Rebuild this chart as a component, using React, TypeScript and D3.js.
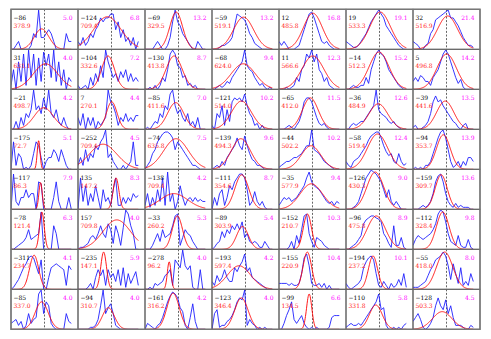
import React from 'react'
import * as d3 from 'd3'

const COLS = 7
const ROWS = 8

// bin centres of every profile (same for all panels)
const binCenters = d3.range(25).map(i => -1000 + i * 75)

// black label: fitted centre
const muLabels = [
  -86, -124, -69, -59, 12, 19, 32,
  31, -104, -130, -68, 11, -14, 5,
  -21, 7, -85, -121, -65, -36, -39,
  -175, -252, -74, -139, -44, -58, -94,
  -117, 135, -138, -111, -35, -126, -159,
  -78, 157, -33, -89, -152, -96, -112,
  -311, -235, -278, -193, -155, -194, -55,
  -85, -94, -161, -123, -99, -110, -128,
]

// red label: fitted width
const widthLabels = [
  378.9, 709.4, 329.5, 519.1, 485.8, 533.3, 516.9,
  631.1, 332.6, 413.8, 624.0, 566.6, 512.3, 496.8,
  498.7, 270.1, 411.6, 514.0, 412.0, 484.9, 441.6,
  72.7, 709.4, 635.8, 494.3, 502.2, 519.4, 353.7,
  86.3, 147.2, 709.4, 354.6, 577.9, 430.3, 309.7,
  121.4, 709.8, 260.2, 303.9, 210.7, 475.8, 328.4,
  234.7, 147.1, 96.2, 597.4, 220.9, 237.2, 418.0,
  337.0, 310.7, 316.2, 346.4, 134.5, 331.8, 503.3,
]

// magenta label
const snrLabels = [
  5.0, 6.8, 13.2, 13.2, 16.8, 19.1, 21.4,
  4.0, 7.2, 8.7, 9.4, 12.3, 15.2, 14.2,
  4.2, 4.4, 7.0, 10.2, 11.5, 12.6, 13.5,
  5.1, 4.5, 7.5, 9.6, 10.2, 12.4, 13.9,
  7.9, 8.3, 4.2, 8.7, 9.4, 9.0, 13.6,
  6.3, 4.0, 5.3, 5.4, 10.3, 8.9, 9.8,
  4.1, 5.9, 4.0, 4.2, 10.4, 10.1, 8.0,
  4.0, 4.0, 4.2, 4.0, 6.6, 5.8, 4.5,
]

// height of the fitted gaussian (same units as profiles)
const fitPeaks = [
  5.2, 8.3, 9.5, 8.2, 9.2, 9.5, 8.5,
  6.5, 8.5, 8.5, 6.5, 8.5, 9.5, 9,
  5.5, 7, 6.8, 7.2, 8, 6.5, 7.2,
  7.3, 6.4, 7.8, 7.8, 6, 9, 8.8,
  6.8, 8, 4, 8.8, 6.5, 9.5, 8.8,
  9.5, 7.5, 8.5, 5.8, 9, 8.5, 9.5,
  8.7, 9.5, 7, 6, 9.5, 8.5, 9.5,
  7, 5.5, 9.2, 8, 9, 6.2, 4.5,
]

// measured profiles, row by row
const profiles = [
  [0, 0, 1, 2, 0, 0, 0, 0, 1, 4, 3, 10, 3, 3, 4, 5, 4, 2, 0, 0, 0, 0, 4, 2, 2],
  [2, 1, 3, 1, 2, 4, 3, 5, 6, 8, 7, 8, 8, 9, 9, 5, 7, 3, 5, 2, 3, 1, 3, 0, 2],
  [0, 0, 0, 0, 1, 2, 1, 0, 0, 1, 3, 7, 10, 7, 6, 4, 3, 2, 1, 0, 0, 2, 1, 0, 0],
  [0, 0, 0, 0.5, 1, 1, 1.5, 2, 3, 6, 9, 8.5, 8, 7.5, 6, 4, 3, 1.5, 1, 0.5, 0, 0, 0, 0, 0],
  [2, 1, 2, 1, 0, 0, 0, 0.5, 1, 3, 5, 7, 9, 9.5, 8, 6, 4, 2, 1.5, 2, 1, 0.5, 0, 0, 0],
  [2, 1.5, 1, 0.5, 0.5, 1, 2, 3, 4, 5.5, 7, 8, 9, 10, 9, 8, 6, 5, 4, 3, 2, 1, 0.5, 0, 0],
  [2, 1.5, 1, 0, 0, 1, 1.5, 4, 5, 7.5, 8, 8.5, 9, 9.5, 10, 8, 8, 7, 6, 4.5, 3, 2, 1, 1, 0.5],

  [1, 5, 0, 7, 2, 9, 1, 10, 3, 9, 1, 8, 2, 9.5, 6, 9, 3, 10, 2, 7, 1, 5, 0, 3, 2],
  [1, 0, 0.5, 1, 0, 3, 1, 4, 2, 6, 3, 10, 7, 5, 3, 4, 2, 4.5, 3, 5, 2, 4, 2, 3, 2],
  [0, 0, 0.5, 0, 1, 0, 1, 3, 2, 5, 9, 10, 9, 6, 5.5, 3, 3.5, 1, 1.5, 0.5, 1, 0, 0, 0, 0],
  [0, 0, 0.5, 1, 0.5, 1, 2, 1.5, 3, 4, 5, 6, 7, 10, 6, 5, 4.5, 3, 2, 1, 1.5, 0.5, 0, 0.5, 0],
  [0, 0, 0, 0.5, 0, 0.5, 1, 3, 2, 5, 6, 9, 8, 10, 7, 9, 5, 4, 2, 3, 1, 0.5, 0, 0, 0],
  [0, 0, 0.5, 1, 0.5, 0.5, 1, 1, 3, 1.5, 5, 7, 9, 10, 9, 8.5, 7, 5, 4, 3, 2, 1, 0.5, 0, 0],
  [2, 3, 2, 3.5, 3, 2, 2, 1, 3, 4, 5, 7, 9, 10, 9, 7, 5, 3, 1.5, 2.5, 0.5, 0, 0, 0, 0],

  [0, 0, 2, 0, 3, 1, 4, 3, 5, 10, 5, 6, 4, 8, 5, 10, 4, 3, 5, 2, 1, 3, 1, 0, 0],
  [3, 1, 4, 0, 3, 1, 3, 0, 2, 1, 2, 3, 10, 7, 6, 4, 1, 3, 2, 4, 2, 3, 2, 3.5, 3.5],
  [0, 0.5, 0, 1, 2, 1.5, 4, 3, 6, 5, 9, 10, 6, 4, 5, 3, 2, 4, 1, 2, 0.5, 3, 0, 0, 0],
  [1, 0, 4, 3, 6, 1, 5, 2, 7, 8, 7.5, 8, 7, 9, 6, 4, 3, 1, 1.5, 0, 1, 0, 0, 0, 0],
  [0, 0, 0, 0.5, 1, 0.5, 0, 1, 2, 4, 7, 8, 8, 7, 5, 3, 1.5, 1, 1.5, 0.5, 0, 0, 0, 0, 0],
  [0, 0, 1, 1.5, 1, 1.5, 2, 2, 3, 4, 5, 6, 10, 5, 4, 3.5, 3, 2, 1.5, 2, 1, 0.5, 0, 0, 0],
  [0.5, 1, 0, 0, 0.5, 1, 2, 4, 7, 8.5, 7, 7.5, 6, 5, 4, 3, 2, 1.5, 0.5, 0, 1, 1.5, 0, 0, 0],

  [0, 7, 1, 4, 3, 0, 0.5, 0, 1, 4, 7, 6, 3, 0, 2, 3, 3, 5, 4, 2, 5, 3, 1, 0, 0],
  [1, 3, 1, 5, 2, 4, 3, 6, 5, 7, 8, 10, 3, 4, 2, 1, 0, 0, 1, 0, 1, 2, 7, 1, 1],
  [0, 1, 2, 4, 5, 7, 8, 9, 9.5, 9.5, 9, 8, 5, 7, 6, 5, 4, 3, 2, 1, 1, 0.5, 0, 0, 0],
  [0, 0.5, 1, 0.5, 2, 1, 3, 4, 5, 6, 8, 6, 5, 8.5, 6, 4, 2.5, 2, 1, 1, 0.5, 0, 0, 0, 0],
  [0.5, 1, 1.5, 2, 2, 2.5, 3, 3, 3.5, 4, 5, 6, 6, 10, 5, 4.5, 4, 3, 2, 1.5, 1, 0.5, 0, 0, 0],
  [2, 1, 0.5, 2, 2.5, 3, 4, 5, 6, 7.5, 8.5, 9, 9.5, 9.5, 8, 6, 4.5, 3.5, 4, 2, 1.5, 4, 2, 1, 1.5],
  [0, 0.5, 0, 0.5, 0, 1, 1, 2, 4, 6, 8, 9.5, 10, 8, 5, 2, 0.5, 1, 2, 0.5, 2, 1, 3, 3, 2],

  [0, 9, 2, 1, 3, 3, 5, 3, 4, 4, 0, 7, 6.5, 0, 0, 0, 0, 3, 7, 2, 0, 0, 0, 3, 0],
  [0, 8, 2, 6, 1, 4, 2, 6, 3, 0, 5, 2, 3, 1, 5, 8, 1, 1, 3, 1.5, 3, 2, 4, 3, 3.5],
  [1, 4, 0.5, 3, 1, 5, 2, 8, 1, 9.5, 2, 4, 0, 2, 6, 3, 1, 2.5, 3, 2, 3, 2, 2.5, 2, 2],
  [0, 3, 1, 4, 5, 1, 3, 6, 5, 7, 8, 9, 9, 8, 5, 1, 2, 4.5, 2, 1, 2, 0.5, 0, 0, 0],
  [1, 2, 3, 2.5, 3, 2, 2.5, 3, 4, 5, 6, 8, 9.5, 7, 6, 5.5, 5, 4, 3, 2, 1.5, 2, 1, 2, 1.5],
  [0, 0, 0, 0.5, 1, 2, 4, 6, 8, 9, 10, 9.5, 9, 8, 7, 5, 3, 5, 2, 1, 2, 1, 0, 0, 0],
  [0, 0, 0, 0.5, 1, 0.5, 1, 2, 4, 7, 8.5, 9, 7, 4, 2, 1, 0.5, 1.5, 0.5, 1, 0.5, 0.5, 0.5, 0, 0],

  [0, 0, 0.5, 1, 1.5, 2, 3, 5, 2.5, 3, 3.5, 4, 9.5, 0, 0, 0, 0, 6, 4, 0, 0, 0, 0, 0, 0],
  [0, 0.5, 0.5, 1, 1.5, 3, 3.5, 2.5, 4, 6, 4, 3, 6.5, 5, 1.5, 6, 4, 1, 5.5, 10, 9, 6, 4, 0, 0],
  [0, 0, 0, 1, 2.5, 4, 2, 5, 3, 3.5, 4, 6, 8.5, 9, 1, 3, 5, 4, 3.5, 2, 1, 0, 0, 0, 0],
  [0, 0.5, 1.5, 2, 4.5, 3, 5, 4, 6, 5, 6.5, 5, 7, 3, 4, 2, 1.5, 2, 1.5, 0.5, 0.5, 2, 1, 0, 0],
  [0, 0, 0, 0, 0.5, 2, 0, 3.5, 1.5, 5, 8.5, 9, 4, 2, 0.5, 3, 2.5, 2, 1, 0.5, 0, 0, 0, 0, 0],
  [0, 0, 0.5, 1, 1.5, 2.5, 3.5, 6.5, 7.5, 8, 8.5, 8.5, 8, 7.7, 7, 4, 3, 1.5, 0.5, 6, 1, 1, 3, 0.5, 0],
  [1, 2.5, 3.5, 3, 2.5, 3, 3.5, 4, 5, 6.5, 9, 10, 9.5, 7, 4, 2, 1.5, 1, 3.5, 1, 0.5, 0.5, 2.5, 0.5, 0],

  [0, 0.5, 1.5, 2.5, 4, 5.5, 6.5, 8, 8.5, 8, 6, 4, 7.5, 0, 0, 3, 5.5, 6, 6.5, 6, 5.5, 5, 1, 6, 5],
  [0, 0, 0, 0, 0.5, 1.5, 0, 3, 5, 3.5, 5, 1, 5, 3, 4, 2, 5, 1, 5.5, 0.5, 4, 1.5, 3, 4.5, 1],
  [0, 0, 0.5, 0, 1.5, 1, 1.5, 2, 3.5, 4, 5, 1, 7.5, 6.5, 5.5, 10, 6, 5, 6, 0.5, 0, 0, 5, 0, 0],
  [2, 1, 3.5, 2, 3, 5, 3, 2, 2, 5.5, 4.5, 6, 7, 9, 4.5, 5.5, 3, 2.5, 2, 1.5, 1, 0.5, 0, 0, 0],
  [1.5, 1.5, 1.5, 1.5, 1, 1.5, 1, 1, 1.5, 4, 8, 9, 6, 1.5, 1, 1, 1.5, 0.5, 1.5, 0, 1, 0, 0, 0, 0],
  [1.5, 0.5, 0, 0.5, 1, 1.5, 2.5, 5.5, 7, 8, 8.5, 7.5, 4, 1, 0.5, 2, 1, 0, 1.5, 0.5, 1, 2.5, 1, 4, 0.5],
  [0.5, 0.5, 0.5, 1, 1.5, 2, 3.5, 5, 6, 7.5, 8, 8.5, 9.5, 8.5, 6, 2.5, 6.5, 4, 1.5, 5.5, 1, 2, 1, 4, 2],

  [1.5, 2, 2.5, 1, 2, 0, 1, 4, 1.5, 2.5, 3, 9, 10, 4, 7, 6, 1.5, 0.5, 0, 0, 0, 0, 4, 2, 1.5],
  [0, 0, 0, 0, 0, 0.5, 0.5, 1, 2.5, 6, 10, 4, 5.5, 6.5, 4, 1, 0.5, 0, 0, 0, 0, 0, 0, 0, 0],
  [0, 1.5, 1, 0.5, 0, 1, 1.5, 3, 5, 7, 8.5, 9.5, 9, 8, 5.5, 4.5, 1, 0, 3, 6.5, 2, 0, 0, 0, 0],
  [0, 4, 5, 0.5, 1, 1, 2, 2.5, 3.5, 5, 7, 8, 7.5, 10, 1, 2.5, 1.5, 1, 0, 0.5, 0, 0.5, 0, 0, 0],
  [0, 0, 1.5, 3.5, 5, 7, 2.5, 1.5, 2.5, 3.5, 1.5, 0.5, 0, 0.5, 0, 0.5, 0, 0, 0, 0, 0.5, 3, 3.5, 3.5, 3.5],
  [0.5, 1, 1.5, 1, 1, 1.5, 1, 2, 3, 4, 5, 6, 7, 9, 5, 5.5, 1, 0, 0, 0.5, 0, 0.5, 0, 1, 1.5],
  [2, 3, 4, 2.5, 0.5, 0, 0.5, 1.5, 3, 6, 8, 6, 5, 7.5, 4, 6, 3, 1, 1, 1, 0.5, 0, 0, 1, 0.5],
]

const fmt = (v: number) => (v < 0 ? '\u2212' + Math.abs(v) : String(v))

export default function App() {
  const width = 491
  const height = 339
  const left = 11
  const top = 9.3
  const cw = 67
  const ch = 40

  const x = d3.scaleLinear().domain([-1000, 1000]).range([0, cw])
  const y = d3.scaleLinear().domain([0, 10.2]).range([ch, 0])
  const blueLine = d3.line<number>().x((d, i) => x(binCenters[i])).y(d => y(d))
  const fitXs = d3.range(-1000, 801, 10)
  const font = { fontFamily: 'DejaVu Serif', fontSize: 6 }

  return (
    <svg width={width} height={height} style={{ position: 'absolute', left: 0, top: 0, background: 'white' }}>
      {profiles.map((prof, k) => {
        const r = Math.floor(k / COLS)
        const c = k % COLS
        const mu = muLabels[k]
        const s = widthLabels[k] * 0.58
        const amp = fitPeaks[k]
        const fit = d3.line<number>()
          .x(d => x(d))
          .y(d => y(amp * Math.exp(-0.5 * ((d - mu) / s) ** 2)))(fitXs)
        return (
          <g key={k} transform={`translate(${left + c * cw},${top + r * ch})`}>
            <clipPath id={`clip${k}`}><rect width={cw} height={ch} /></clipPath>
            <g clipPath={`url(#clip${k})`}>
              <line x1={x(0)} x2={x(0)} y1={0} y2={ch} stroke="#222" strokeWidth={0.7} strokeDasharray="2,1.6" />
              <path d={blueLine(prof) || ''} fill="none" stroke="#2020ff" strokeWidth={0.9} />
              <path d={fit || ''} fill="none" stroke="#ff0000" strokeWidth={0.9} />
            </g>
            <rect width={cw} height={ch} fill="none" stroke="#666" strokeWidth={1} />
            <text x={2.5} y={10.8} {...font} fill="#000">{fmt(mu)}</text>
            <text x={2.5} y={18.6} {...font} fill="#ff2020">{widthLabels[k].toFixed(1)}</text>
            <text x={cw - 5.5} y={10.8} textAnchor="end" {...font} fill="#ff00ff">{snrLabels[k].toFixed(1)}</text>
          </g>
        )
      })}
      <rect x={left} y={top} width={cw * COLS} height={ch * ROWS} fill="none" stroke="#777" strokeWidth={1.4} />
    </svg>
  )
}
